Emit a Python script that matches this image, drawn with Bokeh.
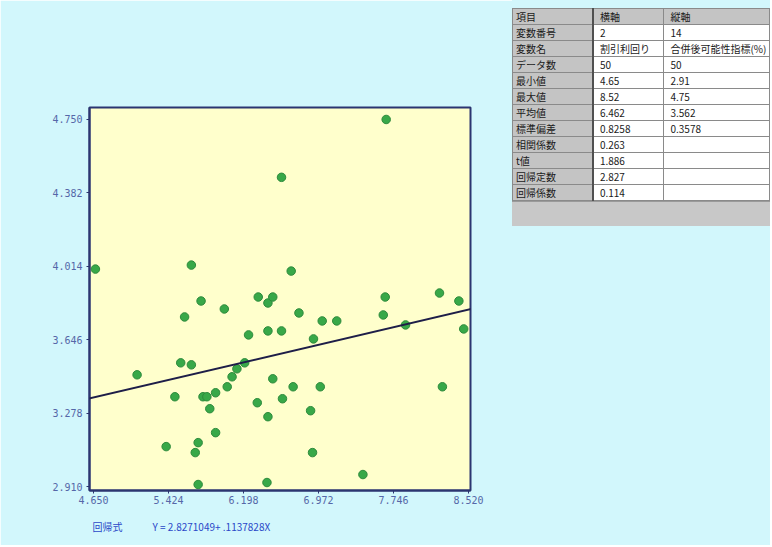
from bokeh.plotting import figure
from bokeh.models import Range1d, FixedTicker, Slope, Title, ColumnDataSource, PrintfTickFormatter, Div
from bokeh.layouts import row
from bokeh.embed import file_html
from bokeh.resources import INLINE

# ---- data ----
x_vals = [4.67, 7.67, 6.59, 5.66, 6.69, 5.76, 6.00, 6.35, 6.45, 6.50, 6.77, 5.59, 6.25,
          6.45, 6.59, 7.01, 7.16, 7.66, 7.64, 8.22, 8.42, 8.47, 7.87, 6.92, 5.10, 5.55,
          5.66, 6.21, 6.13, 6.08, 6.03, 5.49, 5.78, 5.82, 5.91, 5.85, 6.50, 6.71, 6.99,
          6.60, 6.34, 6.45, 6.89, 5.91, 5.40, 5.73, 5.70, 5.73, 6.44, 6.91, 7.43, 8.25]
y_vals = [4.00, 4.75, 4.46, 4.02, 3.99, 3.84, 3.80, 3.86, 3.83, 3.86, 3.78, 3.76, 3.67,
          3.69, 3.69, 3.74, 3.74, 3.86, 3.77, 3.88, 3.84, 3.70, 3.72, 3.65, 3.47, 3.53,
          3.52, 3.53, 3.50, 3.46, 3.41, 3.36, 3.36, 3.36, 3.38, 3.30, 3.45, 3.41, 3.41,
          3.35, 3.33, 3.26, 3.29, 3.18, 3.11, 3.13, 3.08, 2.92, 2.93, 3.08, 2.97, 3.41]
x_ticks = [4.650, 5.424, 6.198, 6.972, 7.746, 8.520]
y_ticks = [2.910, 3.278, 3.646, 4.014, 4.382, 4.750]
reg_intercept = 2.8271049
reg_slope = 0.1137828
formula_label = "回帰式"
formula_text = "Y = 2.8271049+ .1137828X"

table_items = ["項目", "変数番号", "変数名", "データ数", "最小値", "最大値", "平均値",
               "標準偏差", "相関係数", "t値", "回帰定数", "回帰係数"]
table_xcol = ["横軸", "2", "割引利回り", "50", "4.65", "8.52", "6.462", "0.8258",
              "0.263", "1.886", "2.827", "0.114"]
table_ycol = ["縦軸", "14", "合併後可能性指標(%)", "50", "2.91", "4.75", "3.562",
              "0.3578", "", "", "", ""]

BG = "#d2f7fc"
FONT = "Noto Sans CJK JP"
AXIS_COL = "#2b3570"
TICK_TXT = "#5567a8"

# ---- scatter figure ----
p = figure(width=512, height=545, x_range=Range1d(4.609, 8.54), y_range=Range1d(2.89, 4.81),
           output_backend="svg", toolbar_location=None,
           min_border_left=89, min_border_right=42, min_border_top=107, min_border_bottom=55)
p.background_fill_color = "#ffffcc"
p.border_fill_color = BG
p.outline_line_color = AXIS_COL
p.outline_line_width = 2
p.grid.visible = False

p.xaxis.ticker = FixedTicker(ticks=x_ticks)
p.yaxis.ticker = FixedTicker(ticks=y_ticks)
for ax in (p.xaxis, p.yaxis):
    ax.formatter = PrintfTickFormatter(format="%.3f")
    ax.major_label_text_font_size = "10px"
    ax.major_label_text_font = "DejaVu Sans Mono"
    ax.major_label_text_color = TICK_TXT
    ax.major_tick_in = 0
    ax.major_tick_out = 3
    ax.minor_tick_line_color = None
    ax.major_tick_line_color = AXIS_COL
    ax.axis_line_color = AXIS_COL
    ax.axis_line_width = 2
p.xaxis.major_label_standoff = 2
p.yaxis.major_label_standoff = 4

p.add_layout(Slope(gradient=reg_slope, y_intercept=reg_intercept,
                   line_color="#1e1e48", line_width=2))
src = ColumnDataSource(dict(x=x_vals, y=y_vals))
p.scatter("x", "y", source=src, size=8.5, fill_color="#38a848", line_color="#2e8a3c",
          line_width=1)

p.add_layout(Title(text=formula_label + "\u3000\u3000\u3000" + formula_text, align="left",
                   text_font=FONT, text_font_size="10px", text_color="#2a48c8",
                   text_font_style="normal", offset=3, standoff=21), "below")

# ---- statistics table (HTML) ----
col_w = [81, 72, 105]
cell = ("height:15px;padding:0 0 0 {pad}px;border:1px solid #8a8a8a;"
        "background:{bg};white-space:nowrap;overflow:hidden;")
rows_html = []
for i in range(len(table_items)):
    cells = []
    for j, col in enumerate([table_items, table_xcol, table_ycol]):
        bg = "#c4c4c4" if (i == 0 or j == 0) else "#ffffff"
        style = cell.format(pad=3 if j == 0 else 6, bg=bg)
        if j == 0:
            style += "border-right:2px solid #505050;"
        cells.append('<td style="%swidth:%dpx;max-width:%dpx;">%s</td>'
                     % (style, col_w[j] - 4, col_w[j] - 4, col[i]))
    rows_html.append("<tr>" + "".join(cells) + "</tr>")
table_html = (
    '<div style="padding-top:8px;font-family:\'%s\';font-size:10px;line-height:15px;color:#1a1a1a;">'
    '<table style="border-collapse:collapse;table-layout:fixed;width:258px;">%s</table>'
    '<div style="height:25px;width:258px;background:#c8c8c8;border-top:1px solid #9a9a9a;"></div>'
    '</div>' % (FONT, "".join(rows_html))
)
tbl = Div(text=table_html, width=258, height=545,
          styles={"background-color": BG, "margin": "0", "padding": "0"})

layout = row(p, tbl)
html = file_html(layout, INLINE)
html = html.replace("<body>", '<body style="background-color:%s;">' % BG, 1)
open("out.html", "w").write(html)
